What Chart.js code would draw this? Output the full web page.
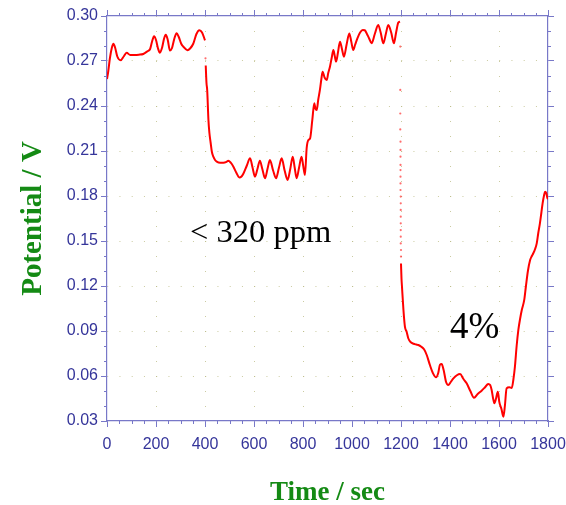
<!DOCTYPE html>
<html>
<head>
<meta charset="utf-8">
<script src="https://cdn.jsdelivr.net/npm/chart.js@4.4.1/dist/chart.umd.min.js"></script>
<style>
  html, body { margin: 0; padding: 0; background: #fff; }
  #wrap { width: 566px; height: 505px; }
</style>
</head>
<body>
<div id="wrap"><canvas id="chart" width="566" height="505"></canvas></div>
<script>
// first plateau, before the gas is switched on (t = 0..400 s)
const seg1Time = [0, 5, 12, 20, 26, 33, 42, 56, 68, 80, 95, 114, 130, 148, 165, 176, 184, 192, 200, 208,
  216, 225, 233, 240, 248, 257, 265, 275, 284, 293, 303, 312, 328, 340, 352, 365, 377, 388, 400];
const seg1Pot = [0.258, 0.263, 0.272, 0.279, 0.2815, 0.279, 0.273, 0.2705, 0.273, 0.2755, 0.274, 0.274, 0.2742,
  0.2747, 0.2765, 0.278, 0.283, 0.2865, 0.284, 0.2785, 0.2755, 0.279, 0.285, 0.2875, 0.284, 0.277, 0.2785,
  0.285, 0.2885, 0.286, 0.2815, 0.2795, 0.2772, 0.2785, 0.2815, 0.288, 0.2905, 0.289, 0.2838];

// < 320 ppm step and recovery (t = 403..1196 s)
const seg2Time = [403, 406, 409, 414, 418, 423, 428, 434, 441, 448, 462, 475, 488, 495, 505, 516, 528, 540, 550,
  557, 570, 584, 594, 604, 614, 624, 634, 645, 655, 665, 678, 690, 702, 713, 725, 737, 748, 758, 766, 774,
  784, 794, 801, 808, 815, 822, 829, 838, 846, 851, 856, 862, 869, 875, 880, 888, 897, 903, 910, 917, 924,
  930, 935, 943, 951, 959, 967, 978, 989, 997, 1005, 1013, 1022, 1033, 1044, 1052, 1060, 1070, 1080, 1093,
  1107, 1117, 1128, 1138, 1148, 1160, 1171, 1180, 1189, 1196];
const seg2Pot = [0.267, 0.2555, 0.2505, 0.2307, 0.222, 0.2155, 0.2095, 0.2062, 0.204, 0.2029, 0.2022, 0.2022,
  0.2028, 0.2035, 0.2022, 0.1995, 0.1955, 0.1924, 0.1932, 0.195, 0.2, 0.2051, 0.199, 0.1929, 0.198, 0.2035,
  0.198, 0.1918, 0.198, 0.204, 0.197, 0.1918, 0.199, 0.2051, 0.197, 0.1907, 0.198, 0.2062, 0.199, 0.1918,
  0.199, 0.2062, 0.2, 0.194, 0.212, 0.2173, 0.2184, 0.2307, 0.2418, 0.238, 0.2373, 0.244, 0.2507, 0.258,
  0.2629, 0.259, 0.2573, 0.262, 0.2662, 0.272, 0.2773, 0.273, 0.2696, 0.276, 0.2829, 0.278, 0.2729, 0.281,
  0.2884, 0.283, 0.2773, 0.281, 0.2851, 0.289, 0.2907, 0.2905, 0.2884, 0.285, 0.2818, 0.288, 0.294, 0.289,
  0.2818, 0.288, 0.294, 0.289, 0.2818, 0.289, 0.2956, 0.2962];

// 4% step (t = 1200..1800 s)
const seg3Time = [1200, 1202, 1204, 1210, 1216, 1223, 1230, 1240, 1251, 1262, 1271, 1283, 1294, 1305, 1318,
  1330, 1343, 1352, 1359, 1366, 1374, 1384, 1393, 1403, 1414, 1428, 1441, 1455, 1468, 1483, 1498, 1513,
  1529, 1543, 1556, 1564, 1570, 1576, 1581, 1588, 1595, 1598, 1601, 1610, 1618, 1624, 1631, 1642, 1652,
  1659, 1665, 1672, 1679, 1686, 1693, 1703, 1710, 1718, 1727, 1734, 1740, 1747, 1754, 1760, 1767, 1773,
  1778, 1784, 1788, 1793, 1798, 1800];
const seg3Pot = [0.135, 0.125, 0.1196, 0.104, 0.0929, 0.0895, 0.085, 0.0825, 0.0815, 0.081, 0.0807, 0.0795,
  0.0778, 0.074, 0.0673, 0.062, 0.0591, 0.062, 0.0675, 0.068, 0.064, 0.056, 0.054, 0.056, 0.0584, 0.0605,
  0.0613, 0.058, 0.0551, 0.05, 0.0455, 0.048, 0.0502, 0.0525, 0.0547, 0.054, 0.0507, 0.045, 0.0418, 0.045,
  0.0495, 0.047, 0.0429, 0.038, 0.0329, 0.04, 0.0518, 0.0525, 0.052, 0.058, 0.0662, 0.08, 0.0907, 0.098,
  0.104, 0.1107, 0.12, 0.13, 0.1373, 0.14, 0.1418, 0.1445, 0.1484, 0.155, 0.1618, 0.169, 0.1751, 0.1805,
  0.1829, 0.182, 0.1784, 0.178];

// sparse samples during the fast drops
const dropTime = [402, 1197, 1197, 1197, 1197, 1198, 1198, 1198, 1198, 1198, 1198, 1198, 1198, 1199, 1199,
  1199, 1199, 1199, 1199, 1199, 1199, 1200, 1200];
const dropPot = [0.2718, 0.2796, 0.2507, 0.235, 0.2244, 0.2162, 0.2107, 0.2062, 0.2007, 0.1973, 0.1929, 0.1884,
  0.184, 0.1796, 0.1751, 0.1707, 0.1662, 0.1618, 0.1573, 0.1529, 0.1484, 0.144, 0.1396];

const notes = [
  { text: '< 320 ppm', x: 339, y: 0.155, size: 32.5 },
  { text: '4%', x: 1400, y: 0.092, size: 37 }
];

const axisColor = '#7878c8';
const labelColor = '#35359a';
const dotColor = 'rgba(185,185,130,0.75)';
const titleGreen = '#148a14';

const pts = (xs, ys) => xs.map((x, i) => ({ x: x, y: ys[i] }));

function lineSet(xs, ys) {
  return {
    data: pts(xs, ys),
    borderColor: '#ff0000',
    borderWidth: 2,
    pointRadius: 0,
    cubicInterpolationMode: 'monotone',
    fill: false
  };
}

const isMajorX = v => Math.round(v) % 200 === 0;
const isMajorY = v => Math.round(v * 100) % 3 === 0;
const isMajor = (id, v) => (id[0] === 'x' ? isMajorX(v) : isMajorY(v));

// fixed box sizes so the plot area sits where the original one does
const fitX = h => s => { s.height = h; s.paddingLeft = 0; s.paddingRight = 0; };
const fitY = w => s => { s.width = w; s.paddingTop = 0; s.paddingBottom = 0; };

// chart.js draws only the long ticks (major); the short ones go here
const minorTicks = {
  id: 'minorTicks',
  afterDraw(chart) {
    const { ctx, chartArea: a, scales } = chart;
    ctx.save();
    ctx.strokeStyle = axisColor;
    ctx.lineWidth = 1;
    ['x', 'x2', 'y', 'y2'].forEach(id => {
      const s = scales[id];
      s.ticks.forEach(t => {
        if (isMajor(id, t.value)) return;
        const p = Math.round(s.getPixelForValue(t.value)) + 0.5;
        ctx.beginPath();
        if (id === 'x') { ctx.moveTo(p, a.bottom); ctx.lineTo(p, a.bottom + 3); }
        if (id === 'x2') { ctx.moveTo(p, a.top); ctx.lineTo(p, a.top - 3); }
        if (id === 'y') { ctx.moveTo(a.left, p); ctx.lineTo(a.left - 3, p); }
        if (id === 'y2') { ctx.moveTo(a.right, p); ctx.lineTo(a.right + 3, p); }
        ctx.stroke();
      });
    });
    ctx.restore();
  }
};

const notesPlugin = {
  id: 'notes',
  afterDatasetsDraw(chart) {
    const { ctx, scales } = chart;
    ctx.save();
    ctx.fillStyle = '#000';
    ctx.textBaseline = 'middle';
    ctx.textAlign = 'left';
    notes.forEach(n => {
      ctx.font = n.size + 'px "Liberation Serif", "Times New Roman", serif';
      ctx.fillText(n.text, scales.x.getPixelForValue(n.x), scales.y.getPixelForValue(n.y));
    });
    ctx.restore();
  }
};

const tickColorFor = id => c => (c.tick && isMajor(id, c.tick.value)) ? axisColor : 'transparent';

new Chart(document.getElementById('chart'), {
  type: 'line',
  data: {
    datasets: [
      lineSet(seg1Time, seg1Pot),
      lineSet(seg2Time, seg2Pot),
      lineSet(seg3Time, seg3Pot),
      {
        data: pts(dropTime, dropPot),
        showLine: false,
        pointRadius: 1.1,
        pointBorderWidth: 0,
        pointBackgroundColor: 'rgba(255,60,60,0.75)'
      }
    ]
  },
  options: {
    responsive: false,
    animation: false,
    layout: { padding: 0 },
    plugins: { legend: { display: false }, tooltip: { enabled: false } },
    scales: {
      x: {
        type: 'linear', position: 'bottom', min: 0, max: 1800,
        afterFit: fitX(84),
        border: { color: axisColor, width: 1.2, dash: [1, 14] },
        grid: {
          color: c => (c.tick && isMajorX(c.tick.value) && c.tick.value > 0 && c.tick.value < 1800) ? dotColor : 'transparent',
          tickColor: tickColorFor('x'), tickLength: 6, lineWidth: 1
        },
        ticks: {
          stepSize: 50, autoSkip: false, maxRotation: 0, padding: 8, color: labelColor,
          font: { family: '"Liberation Sans", Arial, sans-serif', size: 16 },
          callback: v => isMajorX(v) ? String(Math.round(v)) : ''
        },
        title: {
          display: true, text: 'Time / sec', color: titleGreen, padding: { top: 0, bottom: -4 },
          font: { family: '"Liberation Serif", "Times New Roman", serif', size: 27, weight: 'bold' }
        }
      },
      x2: {
        type: 'linear', position: 'top', min: 0, max: 1800,
        afterFit: fitX(16),
        border: { color: axisColor, width: 1.2 },
        grid: { drawOnChartArea: false, tickColor: tickColorFor('x2'), tickLength: 6 },
        ticks: { stepSize: 50, autoSkip: false, display: false }
      },
      y: {
        type: 'linear', position: 'left', min: 0.03, max: 0.30,
        afterFit: fitY(107),
        border: { color: axisColor, width: 1.2, dash: [1, 11.25] },
        grid: {
          color: c => (c.tick && isMajorY(c.tick.value) && c.tick.value > 0.031 && c.tick.value < 0.299) ? dotColor : 'transparent',
          tickColor: tickColorFor('y'), tickLength: 6, lineWidth: 1
        },
        ticks: {
          stepSize: 0.01, autoSkip: false, padding: 3, color: labelColor,
          font: { family: '"Liberation Sans", Arial, sans-serif', size: 16 },
          callback: v => isMajorY(v) ? v.toFixed(2) : ''
        },
        title: {
          display: true, text: 'Potential / V', color: titleGreen, padding: { top: 16, bottom: 0 },
          font: { family: '"Liberation Serif", "Times New Roman", serif', size: 29, weight: 'bold' }
        }
      },
      y2: {
        type: 'linear', position: 'right', min: 0.03, max: 0.30,
        afterFit: fitY(18),
        border: { color: axisColor, width: 1.2 },
        grid: { drawOnChartArea: false, tickColor: tickColorFor('y2'), tickLength: 6 },
        ticks: { stepSize: 0.01, autoSkip: false, display: false }
      }
    }
  },
  plugins: [notesPlugin, minorTicks]
});
</script>
</body>
</html>
